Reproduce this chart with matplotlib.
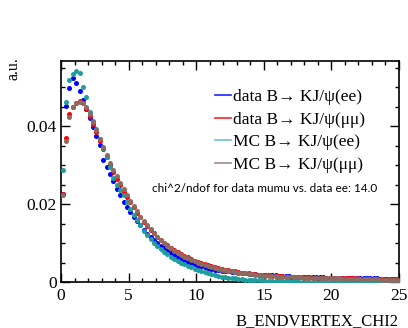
"""
Normalised B_ENDVERTEX_CHI2 distributions, data vs MC, ee vs mumu.
"""

import numpy as np
import matplotlib
matplotlib.use('Agg')
import matplotlib.pyplot as plt
from matplotlib.lines import Line2D
from matplotlib.ticker import MultipleLocator

# bin edges: 100 bins of 0.25 from 0 to 25
bin_lo = 0.0
bin_hi = 25.0
n_bins = 100

data_ee = [
    0.0225, 0.0452, 0.0498, 0.0524, 0.0511, 0.0491, 0.0468, 0.0445, 0.0420, 0.0398,
    0.0375, 0.0352, 0.0312, 0.0295, 0.0278, 0.0260, 0.0238, 0.0222, 0.0205, 0.0192,
    0.0180, 0.0168, 0.0156, 0.0145, 0.0134, 0.0124, 0.0115, 0.0107, 0.0099, 0.0092,
    0.0086, 0.0080, 0.0074, 0.0069, 0.0064, 0.0059, 0.0055, 0.0051, 0.0048, 0.0045,
    0.0042, 0.0040, 0.0038, 0.0036, 0.0034, 0.0032, 0.0030, 0.0029, 0.0028, 0.0027,
    0.0026, 0.0025, 0.0024, 0.0023, 0.0022, 0.0021, 0.0021, 0.0020, 0.0019, 0.0019,
    0.0018, 0.0018, 0.0017, 0.0017, 0.0016, 0.0016, 0.0015, 0.0015, 0.0014, 0.0014,
    0.0014, 0.0013, 0.0013, 0.0013, 0.0012, 0.0012, 0.0012, 0.0012, 0.0011, 0.0011,
    0.0011, 0.0011, 0.0011, 0.0010, 0.0010, 0.0010, 0.0010, 0.0010, 0.0009, 0.0009,
    0.0009, 0.0009, 0.0009, 0.0009, 0.0008, 0.0008, 0.0008, 0.0008, 0.0008, 0.0008,
]
data_mumu = [
    0.0227, 0.0370, 0.0430, 0.0450, 0.0460, 0.0464, 0.0458, 0.0445, 0.0425, 0.0405,
    0.0385, 0.0362, 0.0340, 0.0320, 0.0300, 0.0282, 0.0265, 0.0250, 0.0232, 0.0218,
    0.0205, 0.0192, 0.0178, 0.0166, 0.0155, 0.0144, 0.0134, 0.0125, 0.0116, 0.0108,
    0.0101, 0.0094, 0.0088, 0.0082, 0.0077, 0.0072, 0.0067, 0.0063, 0.0059, 0.0055,
    0.0052, 0.0049, 0.0046, 0.0043, 0.0041, 0.0038, 0.0036, 0.0034, 0.0032, 0.0030,
    0.0028, 0.0027, 0.0026, 0.0024, 0.0023, 0.0022, 0.0021, 0.0020, 0.0019, 0.0018,
    0.0017, 0.0017, 0.0016, 0.0016, 0.0015, 0.0015, 0.0014, 0.0014, 0.0013, 0.0013,
    0.0013, 0.0012, 0.0012, 0.0012, 0.0011, 0.0011, 0.0011, 0.0011, 0.0010, 0.0010,
    0.0010, 0.0010, 0.0010, 0.0009, 0.0009, 0.0009, 0.0009, 0.0009, 0.0008, 0.0008,
    0.0008, 0.0008, 0.0008, 0.0008, 0.0007, 0.0007, 0.0007, 0.0007, 0.0007, 0.0007,
]
mc_ee = [
    0.0287, 0.0461, 0.0519, 0.0534, 0.0541, 0.0536, 0.0500, 0.0475, 0.0435, 0.0412,
    0.0393, 0.0368, 0.0344, 0.0321, 0.0294, 0.0268, 0.0250, 0.0236, 0.0222, 0.0205,
    0.0188, 0.0172, 0.0158, 0.0145, 0.0132, 0.0120, 0.0110, 0.0100, 0.0092, 0.0085,
    0.0078, 0.0071, 0.0065, 0.0059, 0.0054, 0.0049, 0.0045, 0.0041, 0.0038, 0.0034,
    0.0031, 0.0028, 0.0025, 0.0022, 0.0020, 0.0018, 0.0016, 0.0014, 0.0013, 0.0011,
    0.0010, 0.0009, 0.0008, 0.0007, 0.0006, 0.0006, 0.0005, 0.0005, 0.0004, 0.0004,
    0.0003, 0.0003, 0.0003, 0.0003, 0.0002, 0.0002, 0.0002, 0.0002, 0.0002, 0.0002,
    0.0001, 0.0001, 0.0001, 0.0001, 0.0001, 0.0001, 0.0001, 0.0001, 0.0001, 0.0001,
    0.0001, 0.0001, 0.0001, 0.0001, 0.0001, 0.0001, 0.0001, 0.0001, 0.0001, 0.0001,
    0.0001, 0.0001, 0.0001, 0.0001, 0.0001, 0.0001, 0.0001, 0.0001, 0.0001, 0.0001,
]
mc_mumu = [
    0.0222, 0.0361, 0.0423, 0.0450, 0.0458, 0.0462, 0.0460, 0.0448, 0.0430, 0.0410,
    0.0390, 0.0368, 0.0346, 0.0326, 0.0306, 0.0288, 0.0271, 0.0255, 0.0238, 0.0223,
    0.0209, 0.0195, 0.0181, 0.0168, 0.0156, 0.0145, 0.0135, 0.0125, 0.0116, 0.0107,
    0.0100, 0.0093, 0.0086, 0.0080, 0.0075, 0.0070, 0.0065, 0.0061, 0.0057, 0.0053,
    0.0050, 0.0047, 0.0044, 0.0041, 0.0039, 0.0036, 0.0034, 0.0032, 0.0030, 0.0028,
    0.0027, 0.0025, 0.0024, 0.0023, 0.0022, 0.0021, 0.0020, 0.0019, 0.0018, 0.0017,
    0.0016, 0.0016, 0.0015, 0.0015, 0.0014, 0.0014, 0.0013, 0.0013, 0.0012, 0.0012,
    0.0012, 0.0011, 0.0011, 0.0011, 0.0010, 0.0010, 0.0010, 0.0010, 0.0009, 0.0009,
    0.0009, 0.0009, 0.0009, 0.0008, 0.0008, 0.0008, 0.0008, 0.0008, 0.0007, 0.0007,
    0.0007, 0.0007, 0.0007, 0.0007, 0.0006, 0.0006, 0.0006, 0.0006, 0.0006, 0.0006,
]

labels = [
    'data B\u2192 KJ/\u03c8(ee)',
    'data B\u2192 KJ/\u03c8(\u03bc\u03bc)',
    'MC B\u2192 KJ/\u03c8(ee)',
    'MC B\u2192 KJ/\u03c8(\u03bc\u03bc)',
]
x_ticks = [0, 5, 10, 15, 20, 25]
y_ticks = [0, 0.02, 0.04]
y_tick_labels = ['0', '0.02', '0.04']
marker_colors = ['#0000ff', '#ff0000', '#1f9e9e', '#8e6b60']
line_colors = ['#2020ff', '#ff2020', '#6cc4c4', '#a08a84']
stat_err = [0.0002, 0.0002, 0.0004, 0.0003]
chi2_text = 'chi^2/ndof for data mumu vs. data ee: 14.0'

serif = ['Liberation Serif', 'DejaVu Serif']

fig = plt.figure(figsize=(4.08, 3.28), dpi=100)
ax = fig.add_axes([61 / 408, 46 / 328, 338 / 408, 221 / 328])

edges = np.linspace(bin_lo, bin_hi, n_bins + 1)
centers = 0.5 * (edges[:-1] + edges[1:])

for vals, col, err in zip([data_ee, data_mumu, mc_ee, mc_mumu], marker_colors, stat_err):
    ax.errorbar(centers, vals, yerr=err, fmt='o', color=col, ms=3.6,
                elinewidth=0.8, capsize=0, markeredgewidth=0, zorder=3)

ax.set_xlim(0, 25)
ax.set_ylim(0, 0.0567)

# ROOT-like ticks on all sides, pointing inwards
ax.set_xticks(x_ticks)
ax.set_xticklabels([str(t) for t in x_ticks], fontfamily=serif, fontsize=12.5)
ax.set_yticks(y_ticks)
ax.set_yticklabels(y_tick_labels, fontfamily=serif, fontsize=12.5)
ax.xaxis.set_minor_locator(MultipleLocator(1))
ax.yaxis.set_minor_locator(MultipleLocator(0.005))
ax.tick_params(which='both', direction='in', top=True, right=True, width=1.0)
ax.tick_params(which='major', length=6.5)
ax.tick_params(which='minor', length=3)
ax.tick_params(axis='x', pad=4)
ax.tick_params(axis='y', pad=3)
for sp in ax.spines.values():
    sp.set_linewidth(1.2)

fig.text(399 / 408, 1 - 325 / 328, 'B_ENDVERTEX_CHI2', ha='right', va='baseline',
         fontfamily=serif, fontsize=12)
fig.text(14 / 408, 1 - 57 / 328, 'a.u.', ha='center', va='top', rotation=90,
         fontfamily=serif, fontsize=11.5)

handles = [Line2D([0], [0], color=c, lw=1.2) for c in line_colors]
leg = ax.legend(handles, labels, loc='upper left', bbox_to_anchor=(0.456, 0.872),
                frameon=False, prop={'family': serif, 'size': 12.5},
                handlelength=0.92, handletextpad=0.1, labelspacing=0.36,
                borderpad=0, borderaxespad=0)

ax.text(0.269, 0.423, chi2_text, transform=ax.transAxes, ha='left', va='center',
        fontfamily=['Lato', 'DejaVu Sans'], fontsize=8.5)

fig.savefig('out.png', dpi=100)
